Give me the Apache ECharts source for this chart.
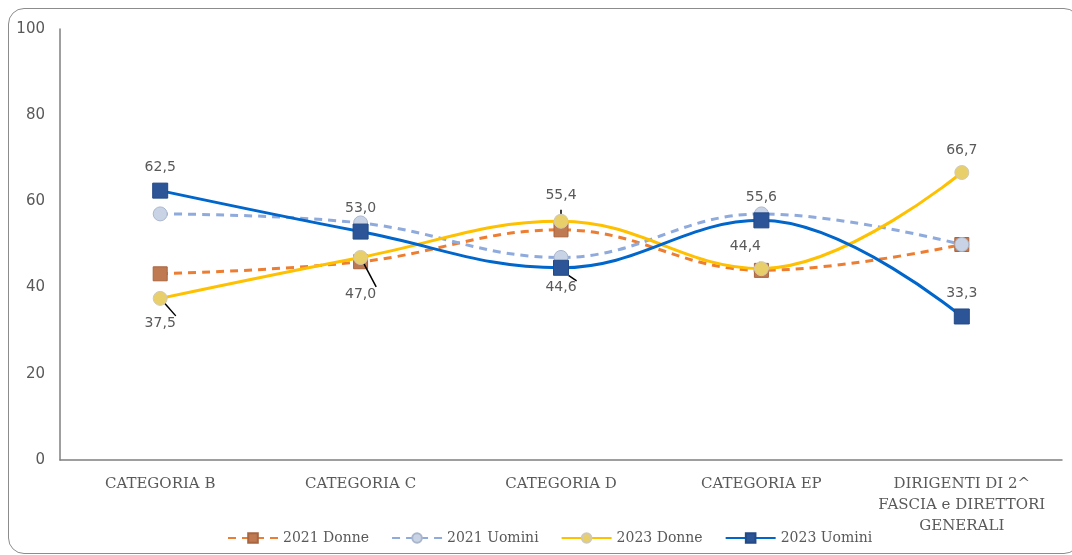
<!DOCTYPE html>
<html>
<head>
<meta charset="utf-8">
<script src="https://cdn.jsdelivr.net/npm/echarts@6/dist/echarts.min.js"></script>
<style>
  html, body { margin: 0; padding: 0; background: #fff; }
  #wrap { position: relative; width: 1072px; height: 555px; overflow: hidden; }
  #chart { position: absolute; left: 0; top: 0; width: 1072px; height: 555px; }
  /* bordo arrotondato del grafico */
  #frame {
    position: absolute; left: 8px; top: 8px; width: 1070px; height: 544px;
    border: 1.5px solid #8c8c8c; border-radius: 16px; pointer-events: none;
  }
</style>
</head>
<body>
<div id="wrap">
  <div id="chart"></div>
  <div id="frame"></div>
</div>
<script>
// categorie e valori (%)
const categories = [
  'CATEGORIA B',
  'CATEGORIA C',
  'CATEGORIA D',
  'CATEGORIA EP',
  'DIRIGENTI DI 2^\nFASCIA e DIRETTORI\nGENERALI'
]
const donne2021 = [43.2, 46.0, 53.4, 44.0, 50.0]
const uomini2021 = [57.1, 55.0, 47.0, 57.1, 50.0]
const donne2023 = [37.5, 47.0, 55.4, 44.4, 66.7]
const uomini2023 = [62.5, 53.0, 44.6, 55.6, 33.3]
const yTicks = [0, 20, 40, 60, 80, 100]

const fmt = (v) => v.toFixed(1).replace('.', ',')

const chart = echarts.init(document.getElementById('chart'))

// etichette 2023: posizioni come nell'originale
const donne2023Labels = [
  { position: 'bottom', distance: 10, line: true },
  { position: 'bottom', distance: 22, line: true },
  { position: 'top', distance: 11, line: true },
  { position: 'top', distance: 8, offset: [-16, 0], line: true },
  { position: 'top', distance: 8, line: false }
]
const uomini2023Labels = [
  { position: 'top', distance: 8, line: false },
  { position: 'top', distance: 8, line: false },
  { position: 'bottom', distance: 5, line: true },
  { position: 'top', distance: 8, line: false },
  { position: 'top', distance: 8, line: false }
]

const withLabels = (values, cfg) => values.map((v, i) => ({
  value: v,
  label: {
    show: true,
    position: cfg[i].position,
    distance: cfg[i].distance,
    offset: cfg[i].offset || [0, 0]
  },
  labelLine: { show: cfg[i].line, lineStyle: { color: '#000', width: 1.5 } }
}))

const labelStyle = {
  show: true,
  formatter: (p) => fmt(p.value),
  color: '#595959',
  fontSize: 14,
  fontFamily: 'DejaVu Sans'
}

const option = {
  animation: false,
  grid: { left: 60, right: 10, top: 29, bottom: 95 },
  legend: {
    left: 222,
    top: 526,
    itemWidth: 50,
    itemHeight: 12,
    itemGap: 22,
    textStyle: { color: '#595959', fontSize: 14, fontFamily: 'DejaVu Serif' },
    data: ['2021 Donne', '2021 Uomini', '2023 Donne', '2023 Uomini']
  },
  xAxis: {
    type: 'category',
    data: categories,
    boundaryGap: true,
    axisLine: { lineStyle: { color: '#7f7f7f', width: 1.5 } },
    axisTick: { show: false },
    axisLabel: {
      color: '#595959',
      fontSize: 15,
      fontFamily: 'DejaVu Serif',
      margin: 14,
      lineHeight: 21,
      interval: 0
    }
  },
  yAxis: {
    type: 'value',
    min: 0,
    max: 100,
    interval: 20,
    splitLine: { show: false },
    axisLine: { show: true, lineStyle: { color: '#7f7f7f', width: 1.5 } },
    axisTick: { show: false },
    axisLabel: {
      color: '#595959',
      fontSize: 15,
      fontFamily: 'DejaVu Sans',
      margin: 15,
      customValues: yTicks
    }
  },
  series: [
    {
      name: '2021 Donne',
      type: 'line',
      smooth: 0.4,
      data: donne2021,
      lineStyle: { color: '#ed7d31', width: 3, type: [8, 6] },
      itemStyle: { color: '#c07a52', borderColor: '#a8653f', borderWidth: 1 },
      symbol: 'rect',
      symbolSize: 14,
      z: 2
    },
    {
      name: '2021 Uomini',
      type: 'line',
      smooth: 0.4,
      data: uomini2021,
      lineStyle: { color: '#8faadc', width: 3, type: [8, 6] },
      itemStyle: { color: '#c9d3e6', borderColor: '#aab6cc', borderWidth: 1 },
      symbol: 'circle',
      symbolSize: 14,
      z: 2
    },
    {
      name: '2023 Donne',
      type: 'line',
      smooth: 0.4,
      data: withLabels(donne2023, donne2023Labels),
      lineStyle: { color: '#ffc000', width: 3 },
      itemStyle: { color: '#e9cf6a', borderColor: '#cfc9b8', borderWidth: 1 },
      symbol: 'circle',
      symbolSize: 14,
      label: labelStyle,
      z: 3
    },
    {
      name: '2023 Uomini',
      type: 'line',
      smooth: 0.4,
      data: withLabels(uomini2023, uomini2023Labels),
      lineStyle: { color: '#0066cc', width: 3 },
      itemStyle: { color: '#2b5597', borderColor: '#234a86', borderWidth: 1 },
      symbol: 'rect',
      symbolSize: 15,
      label: labelStyle,
      z: 4
    }
  ]
}

chart.setOption(option)
</script>
</body>
</html>
